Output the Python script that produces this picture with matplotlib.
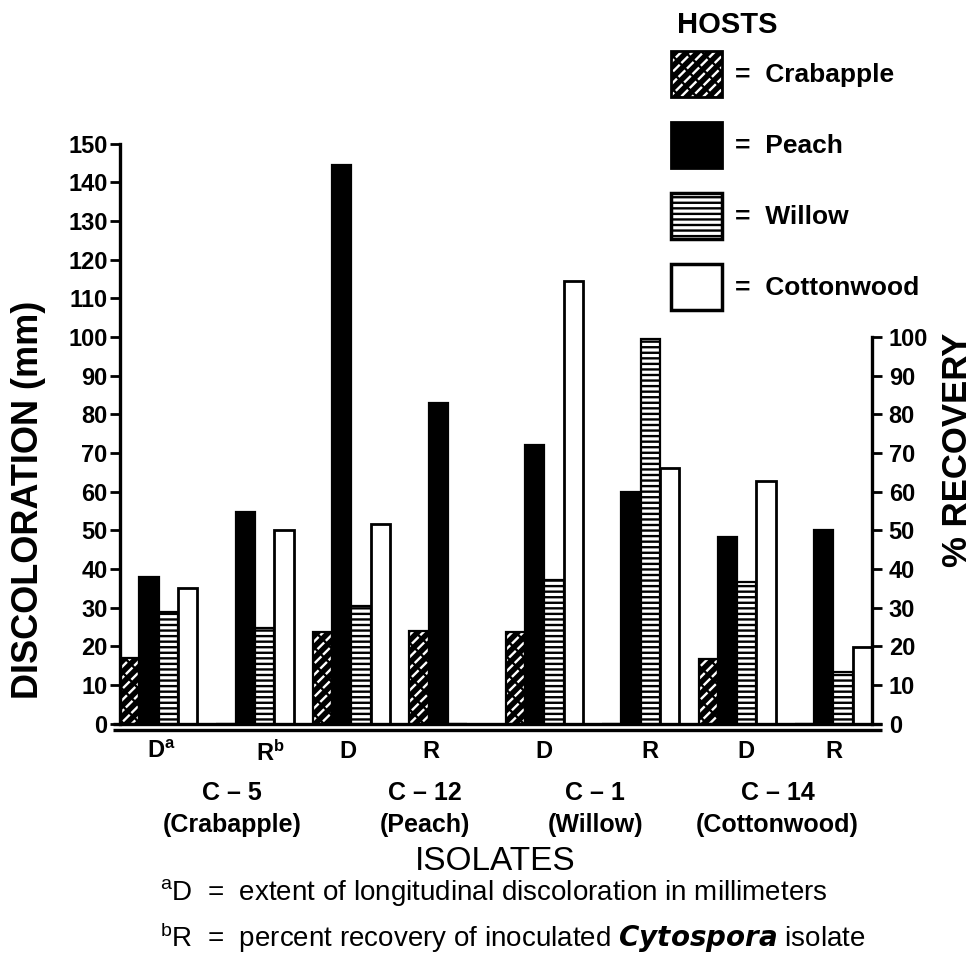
import matplotlib
matplotlib.use('Agg')
import matplotlib.pyplot as plt
import matplotlib.transforms as mtransforms
from matplotlib.patches import Rectangle
import numpy as np

# data
groups = ['D$^a$', 'R$^b$', 'D', 'R', 'D', 'R', 'D', 'R']
isolates = ['C \u2013 5\n(Crabapple)', 'C \u2013 12\n(Peach)', 'C \u2013 1\n(Willow)', 'C \u2013 14\n(Cottonwood)']
hosts = ['Crabapple', 'Peach', 'Willow', 'Cottonwood']

crabapple = [17, 0, 23.7, 24, 23.7, 0, 16.7, 0]
peach = [37.8, 54.7, 144.5, 83, 72, 60, 48.2, 50]
willow = [28.8, 24.6, 30.5, 0, 37, 99.5, 36.6, 13.4]
cottonwood = [35, 50, 51.6, 0, 114.5, 66, 62.7, 19.9]

left_ticks = list(range(0, 151, 10))
right_ticks = list(range(0, 101, 10))

plt.rcParams['font.family'] = ['Liberation Sans', 'DejaVu Sans']
plt.rcParams['font.weight'] = 'bold'
plt.rcParams['mathtext.default'] = 'regular'
plt.rcParams['hatch.linewidth'] = 1.7

fig = plt.figure(figsize=(9.76, 9.61), dpi=100)
ax = fig.add_axes([0.123, 0.2471, 0.7705, 0.6035])

x = np.arange(len(groups))
w = 0.2
lw = 1.6

# crabapple: black with broken white diagonals
xc = x - 1.5 * w
ax.bar(xc, crabapple, w, color='black', edgecolor='black', linewidth=0)
ax.bar(xc, crabapple, w, color='none', edgecolor='white', hatch='///', linewidth=0)
ax.bar(xc, crabapple, w, color='none', edgecolor='black', hatch='\\\\', linewidth=0)
ax.bar(xc, crabapple, w, color='none', edgecolor='black', linewidth=lw)

ax.bar(x - 0.5 * w, peach, w, color='black', edgecolor='black', linewidth=lw)
ax.bar(x + 0.5 * w, willow, w, color='white', edgecolor='black', hatch='---', linewidth=lw)
ax.bar(x + 1.5 * w, cottonwood, w, color='white', edgecolor='black', linewidth=2.0)

ax.set_xlim(-0.4, 7.4)
ax.set_ylim(0, 150)

for s in ['top', 'right', 'bottom']:
    ax.spines[s].set_visible(False)
ax.spines['left'].set_linewidth(2.4)
ax.spines['left'].set_bounds(0, 150)
ax.set_yticks(left_ticks)
ax.tick_params(axis='y', length=7, width=2, pad=2, labelsize=17)

# the D / R letters sit a little off the group centres in the original
label_nudge = [0.03, 0.16, -0.04, -0.18, 0, 0.1, 0.09, 0]
ax.set_xticks(x + np.array(label_nudge))
ax.set_xticklabels(groups)
ax.tick_params(axis='x', length=0, pad=12, labelsize=17)

ax2 = ax.twinx()
ax2.set_ylim(0, 150)
for s in ['top', 'left', 'bottom']:
    ax2.spines[s].set_visible(False)
ax2.spines['right'].set_linewidth(2.4)
ax2.spines['right'].set_bounds(0, 100)
ax2.set_yticks(right_ticks)
ax2.tick_params(axis='y', length=7, width=2, pad=5, labelsize=17)

# double baseline
yt = ax.get_yaxis_transform()
ax.plot([-0.01, 1.013], [0, 0], color='black', lw=2.4, transform=yt, clip_on=False, solid_capstyle='butt')
ax.plot([-0.01, 1.013], [-1.6, -1.6], color='black', lw=2.4, transform=yt, clip_on=False, solid_capstyle='butt')

# isolate names under each D/R pair
nudge = [0.26, 0.26, 0.03, -0.08]
bt = mtransforms.blended_transform_factory(ax.transData, fig.transFigure)
for k, name in enumerate(isolates):
    ax.text(2 * k + 0.5 + nudge[k], 0.158, name, transform=bt, ha='center', va='center',
            fontsize=18, linespacing=1.45)

fig.text(0.029, 0.48, 'DISCOLORATION (mm)', rotation=90, ha='center', va='center', fontsize=26)
fig.text(0.981, 0.532, '% RECOVERY', rotation=90, ha='center', va='center', fontsize=25)

fig.text(0.507, 0.104, 'ISOLATES', ha='center', va='center', fontsize=24, weight='normal')
fig.text(0.164, 0.071, '$^a$D  =  extent of longitudinal discoloration in millimeters',
         ha='left', va='center', fontsize=20, weight='normal')
fig.text(0.164, 0.024, '$^b$R  =  percent recovery of inoculated $\\it{Cytospora}$ isolate',
         ha='left', va='center', fontsize=20, weight='normal')

# legend
def box(**kw):
    return Rectangle((0, 0), 1, 1, **kw)

handles = [
    (box(facecolor='black', linewidth=0),
     box(facecolor='none', edgecolor='white', hatch='///', linewidth=0),
     box(facecolor='none', edgecolor='black', hatch='\\\\', linewidth=0),
     box(facecolor='none', edgecolor='black', linewidth=2)),
    box(facecolor='black', edgecolor='black', linewidth=2),
    box(facecolor='white', edgecolor='black', hatch='---', linewidth=2.5),
    box(facecolor='white', edgecolor='black', linewidth=2.5),
]
fig.text(0.694, 0.974, 'HOSTS', ha='left', va='center', fontsize=21)
leg = fig.legend(handles, ['=  ' + h for h in hosts], loc='upper left',
                 bbox_to_anchor=(0.688, 0.947), frameon=False, fontsize=19,
                 handlelength=1.9, handleheight=2.3, labelspacing=0.95,
                 handletextpad=0.5, borderpad=0, borderaxespad=0)

fig.savefig('out.png', dpi=100)
